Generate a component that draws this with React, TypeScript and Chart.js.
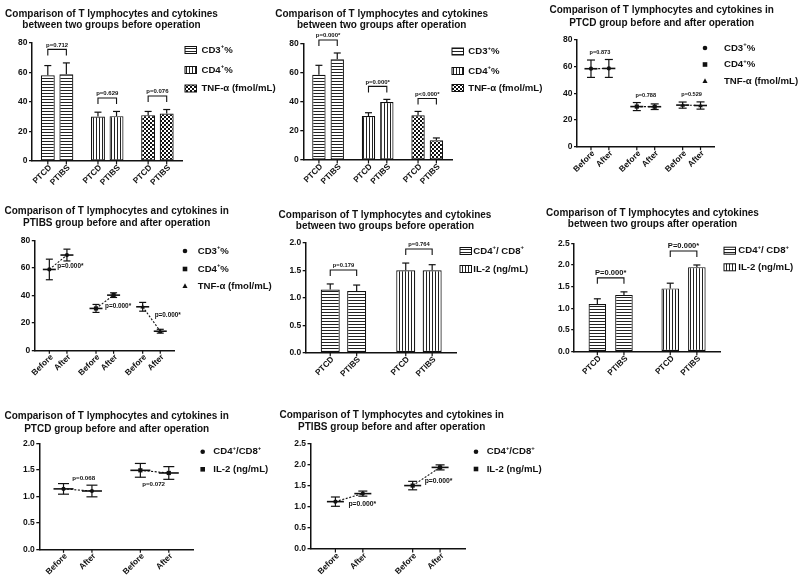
import React, { useEffect, useRef } from 'react';
import { Chart, registerables } from 'chart.js';

Chart.register(...registerables);

const FONT = '"Liberation Sans", Arial, Helvetica, sans-serif';

// ---------------- data ----------------
const groupLabels = ['PTCD', 'PTIBS'];
const timeLabels = ['Before', 'After'];
const measures3 = ['CD3^+^%', 'CD4^+^%', 'TNF-α (fmol/mL)'];
const measures2Bar = ['CD4^+^/ CD8^+', 'IL-2 (ng/mL)'];
const measures2Dot = ['CD4^+^/CD8^+', 'IL-2 (ng/mL)'];

const titleBefore = ['Comparison of T lymphocytes and cytokines', 'between two groups before operation'];
const titleAfter = ['Comparison of T lymphocytes and cytokines', 'between two groups after operation'];
const titlePTCD = ['Comparison of T lymphocytes and cytokines in', 'PTCD group before and after operation'];
const titlePTIBS = ['Comparison of T lymphocytes and cytokines in', 'PTIBS group before and after operation'];

const yTicks80 = [0, 20, 40, 60, 80];
const yTicks20 = [0, 0.5, 1.0, 1.5, 2.0];
const yTicks25 = [0, 0.5, 1.0, 1.5, 2.0, 2.5];

// Panel 1: between groups, before operation (CD3, CD4, TNF)
const p1PTCD = [58.1, 30.2, 31.1];
const p1PTCDsd = [6.6, 2.9, 2.5];
const p1PTIBS = [58.8, 30.4, 32.2];
const p1PTIBSsd = [7.7, 3.2, 2.7];
const p1P = ['p=0.712', 'p=0.629', 'p=0.076'];

// Panel 2: between groups, after operation
const p2PTCD = [58.8, 30.3, 30.8];
const p2PTCDsd = [6.5, 2.3, 2.7];
const p2PTIBS = [69.4, 40.0, 13.6];
const p2PTIBSsd = [4.4, 1.8, 1.6];
const p2P = ['p=0.000*', 'p=0.000*', 'p<0.000*'];

// Panel 3: PTCD before / after
const p3Before = [58.3, 30.0, 31.1];
const p3BeforeSd = [6.5, 3.0, 2.3];
const p3After = [58.5, 29.9, 30.8];
const p3AfterSd = [6.7, 2.1, 2.7];
const p3P = ['p=0.873', 'p=0.788', 'p=0.529'];

// Panel 4: PTIBS before / after
const p4Before = [58.9, 30.5, 31.7];
const p4BeforeSd = [7.5, 2.9, 3.2];
const p4After = [69.4, 40.2, 13.9];
const p4AfterSd = [4.3, 1.7, 1.4];
const p4P = ['p=0.000*', 'p=0.000*', 'p=0.000*'];

// Panel 5: between groups, before operation (CD4/CD8, IL-2)
const p5PTCD = [1.15, 1.50];
const p5PTCDsd = [0.10, 0.13];
const p5PTIBS = [1.12, 1.50];
const p5PTIBSsd = [0.11, 0.10];
const p5P = ['p=0.179', 'p=0.764'];

// Panel 6: between groups, after operation
const p6PTCD = [1.10, 1.46];
const p6PTCDsd = [0.12, 0.12];
const p6PTIBS = [1.31, 1.95];
const p6PTIBSsd = [0.07, 0.05];
const p6P = ['P=0.000*', 'P=0.000*'];

// Panel 7: PTCD before / after
const p7Before = [1.14, 1.49];
const p7BeforeSd = [0.10, 0.13];
const p7After = [1.10, 1.44];
const p7AfterSd = [0.11, 0.12];
const p7P = ['p=0.068', 'p=0.072'];

// Panel 8: PTIBS before / after
const p8Before = [1.12, 1.50];
const p8BeforeSd = [0.11, 0.10];
const p8After = [1.31, 1.93];
const p8AfterSd = [0.06, 0.06];
const p8P = ['p=0.000*', 'p=0.000*'];

// ---------------- panel layout / style ----------------
const panels: any[] = [
  {
    kind: 'bar', cats: measures3, xLabels: groupLabels, title: titleBefore,
    means: [p1PTCD, p1PTIBS], sds: [p1PTCDsd, p1PTIBSsd], pTexts: p1P,
    ticks: yTicks80, dec: 0, patterns: ['h', 'v', 'c'],
    area: { l: 32, r: 182.5, t: 43, b: 161 }, catPct: 0.74, barPct: 0.75,
    titlePos: { cx: 111.5, y: 14, lh: 11.5 },
    legend: { x: 185, tx: 201.5, ys: [50, 70, 88.5] },
    pFont: 6, bracketGap: 13.5,
  },
  {
    kind: 'bar', cats: measures3, xLabels: groupLabels, title: titleAfter,
    means: [p2PTCD, p2PTIBS], sds: [p2PTCDsd, p2PTIBSsd], pTexts: p2P,
    ticks: yTicks80, dec: 0, patterns: ['h', 'v', 'c'],
    area: { l: 303.3, r: 452, t: 44, b: 160 }, catPct: 0.74, barPct: 0.73,
    titlePos: { cx: 381.7, y: 14, lh: 11.5 },
    legend: { x: 452, tx: 468.3, ys: [51.5, 71, 88] },
    pFont: 6, bracketGap: 13,
  },
  {
    kind: 'dot', cats: measures3, xLabels: timeLabels, title: titlePTCD,
    means: [p3Before, p3After], sds: [p3BeforeSd, p3AfterSd], pTexts: p3P,
    ticks: yTicks80, dec: 0, shapes: ['circle', 'square', 'triangle'],
    area: { l: 577, r: 714.5, t: 39.7, b: 146.7 }, catPct: 0.78, barPct: 0.8,
    titlePos: { cx: 661.7, y: 10.5, lh: 12.5 },
    legend: { x: 705, tx: 724, ys: [48, 64.5, 81] },
    pFont: 5.6, meanW: 13, capW: 8,
    pPlace: { type: 'above', gap: 7 },
  },
  {
    kind: 'dot', cats: measures3, xLabels: timeLabels, title: titlePTIBS,
    means: [p4Before, p4After], sds: [p4BeforeSd, p4AfterSd], pTexts: p4P,
    ticks: yTicks80, dec: 0, shapes: ['circle', 'square', 'triangle'],
    area: { l: 34.8, r: 174.8, t: 240.5, b: 350.3 }, catPct: 0.754, barPct: 0.8,
    titlePos: { cx: 116.7, y: 211.7, lh: 11.7 },
    legend: { x: 185, tx: 197.7, ys: [251, 269, 286] },
    pFont: 6.4, meanW: 13, capW: 7,
    pPlace: { type: 'mid', anchor: 'x0', align: 'left', dx: [8, 9, 12], dy: [4, 4, -4] },
  },
  {
    kind: 'bar', cats: measures2Bar, xLabels: groupLabels, title: titleBefore,
    means: [p5PTCD, p5PTIBS], sds: [p5PTCDsd, p5PTIBSsd], pTexts: p5P,
    ticks: yTicks20, dec: 1, patterns: ['h', 'v'],
    area: { l: 305.7, r: 456.7, t: 242.7, b: 352.7 }, catPct: 0.70, barPct: 0.72,
    titlePos: { cx: 385, y: 215, lh: 11 },
    legend: { x: 460, tx: 473.3, ys: [251, 269] },
    pFont: 5.8, bracketGap: 14,
  },
  {
    kind: 'bar', cats: measures2Bar, xLabels: groupLabels, title: titleAfter,
    means: [p6PTCD, p6PTIBS], sds: [p6PTCDsd, p6PTIBSsd], pTexts: p6P,
    ticks: yTicks25, dec: 1, patterns: ['h', 'v'],
    area: { l: 574.2, r: 720, t: 243.3, b: 351.7 }, catPct: 0.73, barPct: 0.66,
    titlePos: { cx: 652.5, y: 213.3, lh: 11 },
    legend: { x: 724, tx: 738.3, ys: [250.7, 267.3] },
    pFont: 7.6, bracketGap: 14,
  },
  {
    kind: 'dot', cats: measures2Dot, xLabels: timeLabels, title: titlePTCD,
    means: [p7Before, p7After], sds: [p7BeforeSd, p7AfterSd], pTexts: p7P,
    ticks: yTicks20, dec: 1, shapes: ['circle', 'square'],
    area: { l: 39.3, r: 193, t: 443.3, b: 549.3 }, catPct: 0.74, barPct: 0.8,
    titlePos: { cx: 116.7, y: 416.7, lh: 12.6 },
    legend: { x: 202.7, tx: 213.3, ys: [451.7, 469.3] },
    pFont: 6.2, meanW: 20, capW: 11,
    pPlace: { type: 'mid', anchor: 'mid', align: 'center', dx: [6, -1], dy: [-12, 12.6] },
  },
  {
    kind: 'dot', cats: measures2Dot, xLabels: timeLabels, title: titlePTIBS,
    means: [p8Before, p8After], sds: [p8BeforeSd, p8AfterSd], pTexts: p8P,
    ticks: yTicks25, dec: 1, shapes: ['circle', 'square'],
    area: { l: 310.5, r: 465, t: 443.3, b: 549 }, catPct: 0.71, barPct: 0.8,
    titlePos: { cx: 391.7, y: 415, lh: 12.3 },
    legend: { x: 476, tx: 486.7, ys: [451.7, 469] },
    pFont: 6.8, meanW: 17, capW: 9,
    pPlace: { type: 'mid', anchor: 'x0', align: 'left', dx: [13, 12], dy: [6, 5] },
  },
];

const YW = 40;
const INK = '#111';

function makePattern(kind: string) {
  const c = document.createElement('canvas');
  const g = c.getContext('2d') as CanvasRenderingContext2D;
  if (kind === 'h') {
    c.width = 4; c.height = 3;
    g.fillStyle = '#fff'; g.fillRect(0, 0, 4, 3);
    g.fillStyle = '#222'; g.fillRect(0, 0, 4, 1);
  } else if (kind === 'v') {
    c.width = 3; c.height = 4;
    g.fillStyle = '#fff'; g.fillRect(0, 0, 3, 4);
    g.fillStyle = '#222'; g.fillRect(0, 0, 1, 4);
  } else {
    c.width = 4; c.height = 4;
    g.fillStyle = '#fff'; g.fillRect(0, 0, 4, 4);
    g.fillStyle = '#111'; g.fillRect(0, 0, 2, 2); g.fillRect(2, 2, 2, 2);
  }
  return g.createPattern(c, 'repeat');
}

function bold(size: number) {
  return `bold ${size}px ${FONT}`;
}

function drawRich(ctx: CanvasRenderingContext2D, str: string, x: number, y: number, size: number) {
  const parts = str.split('^');
  let cx = x;
  ctx.textAlign = 'left';
  ctx.textBaseline = 'middle';
  parts.forEach((p, j) => {
    if (!p) return;
    if (j % 2 === 1) {
      ctx.font = bold(size * 0.62);
      ctx.fillText(p, cx, y - size * 0.36);
    } else {
      ctx.font = bold(size);
      ctx.fillText(p, cx, y);
    }
    cx += ctx.measureText(p).width;
  });
}

function drawMarker(ctx: CanvasRenderingContext2D, shape: string, x: number, y: number, s: number) {
  ctx.beginPath();
  if (shape === 'circle') {
    ctx.arc(x, y, s / 2, 0, Math.PI * 2);
  } else if (shape === 'square') {
    ctx.rect(x - s / 2, y - s / 2, s, s);
  } else {
    ctx.moveTo(x, y - s * 0.6);
    ctx.lineTo(x + s * 0.55, y + s * 0.42);
    ctx.lineTo(x - s * 0.55, y + s * 0.42);
    ctx.closePath();
  }
  ctx.fill();
}

function line(ctx: CanvasRenderingContext2D, x1: number, y1: number, x2: number, y2: number) {
  ctx.beginPath();
  ctx.moveTo(x1, y1);
  ctx.lineTo(x2, y2);
  ctx.stroke();
}

function decoPlugin(spec: any, pats: any[]) {
  return {
    id: 'deco',
    afterDraw(chart: any) {
      const ctx: CanvasRenderingContext2D = chart.ctx;
      const ys = chart.scales.y;
      const a = chart.chartArea;
      const metas = [chart.getDatasetMeta(0).data, chart.getDatasetMeta(1).data];
      const n = spec.cats.length;
      ctx.save();
      ctx.strokeStyle = INK;
      ctx.fillStyle = INK;
      ctx.lineCap = 'butt';

      // title
      ctx.font = bold(10);
      ctx.textAlign = 'center';
      ctx.textBaseline = 'middle';
      spec.title.forEach((t: string, k: number) => {
        ctx.fillText(t, spec.titlePos.cx, spec.titlePos.y + k * spec.titlePos.lh);
      });

      // x tick marks and rotated labels
      ctx.lineWidth = 1.2;
      for (let i = 0; i < n; i++) {
        for (let d = 0; d < 2; d++) {
          const x = metas[d][i].x;
          line(ctx, x, a.bottom, x, a.bottom + 3.5);
          ctx.save();
          ctx.translate(x + 2.5, a.bottom + 5.5);
          ctx.rotate(-Math.PI / 4);
          ctx.font = bold(8.3);
          ctx.textAlign = 'right';
          ctx.textBaseline = 'middle';
          ctx.fillText(spec.xLabels[d], 0, 0);
          ctx.restore();
        }
      }

      const px = (v: number) => ys.getPixelForValue(v);

      if (spec.kind === 'bar') {
        ctx.lineWidth = 1.2;
        for (let i = 0; i < n; i++) {
          const tops: number[] = [];
          for (let d = 0; d < 2; d++) {
            const x = metas[d][i].x;
            const m = spec.means[d][i];
            const s = spec.sds[d][i];
            const yt = px(m);
            const yh = px(m + s);
            tops.push(yh);
            line(ctx, x, yt, x, yh);
            line(ctx, x - 3.5, yh, x + 3.5, yh);
          }
          // bracket
          const x0 = metas[0][i].x;
          const x1 = metas[1][i].x;
          const yb = Math.min(tops[0], tops[1]) - spec.bracketGap;
          ctx.lineWidth = 1.1;
          ctx.beginPath();
          ctx.moveTo(x0, yb + 6);
          ctx.lineTo(x0, yb);
          ctx.lineTo(x1, yb);
          ctx.lineTo(x1, yb + 6);
          ctx.stroke();
          ctx.lineWidth = 1.2;
          ctx.font = bold(spec.pFont);
          ctx.textAlign = 'center';
          ctx.textBaseline = 'bottom';
          ctx.fillText(spec.pTexts[i], (x0 + x1) / 2, yb - 1.5);
        }
      } else {
        for (let i = 0; i < n; i++) {
          const xs = [metas[0][i].x, metas[1][i].x];
          const ym = [px(spec.means[0][i]), px(spec.means[1][i])];
          // dashed connector
          ctx.lineWidth = 1.1;
          ctx.setLineDash([2, 1.6]);
          line(ctx, xs[0], ym[0], xs[1], ym[1]);
          ctx.setLineDash([]);
          const his: number[] = [];
          for (let d = 0; d < 2; d++) {
            const m = spec.means[d][i];
            const s = spec.sds[d][i];
            const x = xs[d];
            const yh = px(m + s);
            const yl = px(m - s);
            his.push(yh);
            ctx.lineWidth = 1.2;
            line(ctx, x, yh, x, yl);
            line(ctx, x - spec.capW / 2, yh, x + spec.capW / 2, yh);
            line(ctx, x - spec.capW / 2, yl, x + spec.capW / 2, yl);
            ctx.lineWidth = 1.6;
            line(ctx, x - spec.meanW / 2, ym[d], x + spec.meanW / 2, ym[d]);
            drawMarker(ctx, spec.shapes[i], x, ym[d], 4.2);
          }
          // p text
          const pp = spec.pPlace;
          ctx.font = bold(spec.pFont);
          ctx.textBaseline = 'middle';
          if (pp.type === 'above') {
            ctx.textAlign = 'center';
            ctx.fillText(spec.pTexts[i], (xs[0] + xs[1]) / 2, Math.min(his[0], his[1]) - pp.gap);
          } else {
            ctx.textAlign = pp.align;
            const bx = pp.anchor === 'mid' ? (xs[0] + xs[1]) / 2 : xs[0];
            ctx.fillText(spec.pTexts[i], bx + pp.dx[i], (ym[0] + ym[1]) / 2 + pp.dy[i]);
          }
        }
      }

      // legend
      const lg = spec.legend;
      spec.cats.forEach((c: string, k: number) => {
        const y = lg.ys[k];
        if (spec.kind === 'bar') {
          ctx.fillStyle = pats[k];
          ctx.fillRect(lg.x, y - 3.5, 11.5, 7);
          ctx.lineWidth = 1;
          ctx.strokeStyle = INK;
          ctx.strokeRect(lg.x, y - 3.5, 11.5, 7);
          ctx.fillStyle = INK;
        } else {
          drawMarker(ctx, spec.shapes[k], lg.x, y, 4.6);
        }
        drawRich(ctx, c, lg.tx, y, 9.6);
      });

      ctx.restore();
    },
  };
}

function buildConfig(spec: any) {
  const isBar = spec.kind === 'bar';
  const pats = isBar ? spec.patterns.map((k: string) => makePattern(k)) : [];
  const datasets = [0, 1].map((d) => ({
    label: spec.xLabels[d],
    data: spec.means[d],
    backgroundColor: isBar ? pats : 'rgba(0,0,0,0)',
    borderColor: isBar ? INK : 'rgba(0,0,0,0)',
    borderWidth: isBar ? 1.2 : 0,
    borderSkipped: false,
    categoryPercentage: spec.catPct,
    barPercentage: spec.barPct,
  }));
  const a = spec.area;
  const ticks: number[] = spec.ticks;
  return {
    type: 'bar',
    data: { labels: spec.cats.map((c: string) => c.replace(/\^/g, '')), datasets },
    options: {
      responsive: false,
      animation: false,
      devicePixelRatio: 1,
      events: [],
      layout: { padding: { left: a.l - YW, top: a.t, right: 800 - a.r, bottom: 579 - a.b } },
      plugins: { legend: { display: false }, title: { display: false }, tooltip: { enabled: false } },
      scales: {
        x: {
          type: 'category',
          offset: true,
          ticks: { display: false },
          grid: { display: false, drawTicks: false },
          border: { display: true, color: INK, width: 1.5 },
          afterFit: (s: any) => { s.height = 0; },
        },
        y: {
          type: 'linear',
          min: ticks[0],
          max: ticks[ticks.length - 1],
          afterBuildTicks: (s: any) => { s.ticks = ticks.map((v) => ({ value: v })); },
          ticks: {
            color: INK,
            font: { family: FONT, size: 8.5, weight: 'bold' },
            padding: 1.5,
            callback: (v: any) => Number(v).toFixed(spec.dec),
          },
          grid: { drawOnChartArea: false, drawTicks: true, tickLength: 3, color: INK, lineWidth: 1.3 },
          border: { display: true, color: INK, width: 1.5 },
          afterFit: (s: any) => { s.width = YW; },
        },
      },
    },
    plugins: [decoPlugin(spec, pats)],
  };
}

function Panel({ spec }: { spec: any }) {
  const ref = useRef<HTMLCanvasElement | null>(null);
  useEffect(() => {
    if (!ref.current) return;
    const chart = new Chart(ref.current, buildConfig(spec) as any);
    return () => chart.destroy();
  }, [spec]);
  return (
    <canvas
      ref={ref}
      width={800}
      height={579}
      style={{ position: 'absolute', left: 0, top: 0, width: 800, height: 579 }}
    />
  );
}

export default function App() {
  return (
    <div
      style={{
        position: 'absolute',
        left: 0,
        top: 0,
        width: 800,
        height: 579,
        background: '#fff',
        overflow: 'hidden',
      }}
    >
      {panels.map((p, i) => (
        <Panel key={i} spec={p} />
      ))}
    </div>
  );
}
